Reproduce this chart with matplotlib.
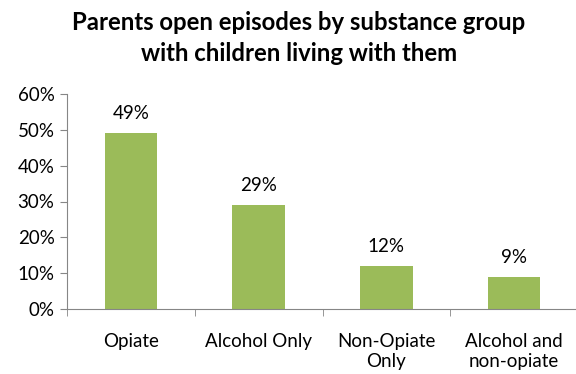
import numpy as np
from matplotlib import pyplot as plt

categories = ['Opiate', 'Alcohol Only', 'Non-Opiate\nOnly', 'Alcohol and\nnon-opiate']
values = [49, 29, 12, 9]

plt.rcParams['font.family'] = ['Lato', 'DejaVu Sans']

fig = plt.figure(figsize=(5.76, 3.74), dpi=100)
ax = fig.add_axes([67 / 576, 65 / 374, 511 / 576, 215 / 374])

x = np.arange(len(categories))
bars = ax.bar(x, values, width=0.41, color='#9BBB59')

ax.set_xlim(-0.5, len(categories) - 0.5)
ax.set_ylim(0, 60)
ax.set_yticks(range(0, 61, 10))
ax.set_yticklabels([f'{v}%' for v in range(0, 61, 10)], fontsize=13.5)

# category labels centered, ticks at boundaries
ax.set_xticks(x)
ax.set_xticklabels(categories, fontsize=13.5, linespacing=1.25)
ax.tick_params(axis='x', which='major', length=0, pad=17)
ax.set_xticks(np.arange(-0.5, len(categories), 1), minor=True)
ax.tick_params(axis='x', which='minor', length=5, color='#868686')
ax.tick_params(axis='y', length=5, color='#868686', pad=4)

for side in ['top', 'right']:
    ax.spines[side].set_visible(False)
for side in ['left', 'bottom']:
    ax.spines[side].set_color('#868686')

for b, v in zip(bars, values):
    ax.annotate(f'{v}%', (b.get_x() + b.get_width() / 2, v),
                xytext=(0, 8), textcoords='offset points',
                ha='center', va='bottom', fontsize=13.5)

fig.text(299 / 576, 1 - 11 / 374,
         'Parents open episodes by substance group\nwith children living with them',
         ha='center', va='top', fontsize=17.2, fontweight='bold', linespacing=1.4)

plt.savefig('out.png', dpi=100)
plt.close()
